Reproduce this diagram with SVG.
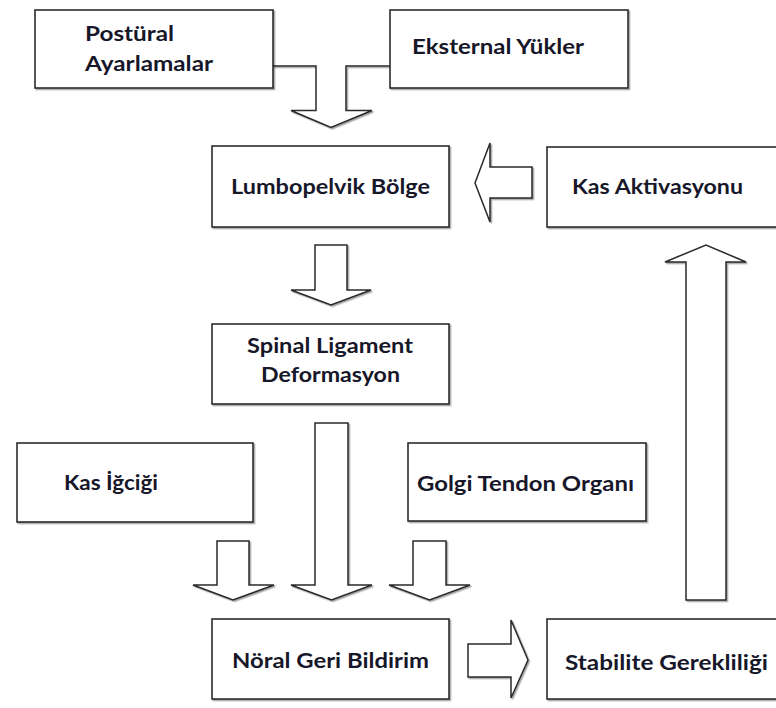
<svg xmlns="http://www.w3.org/2000/svg" width="776" height="708" viewBox="0 0 776 708">
  <defs>
    <filter id="shadow" x="-10%" y="-10%" width="130%" height="130%">
      <feDropShadow dx="1.4" dy="1.4" stdDeviation="0.5" flood-color="#000" flood-opacity="0.35"/>
    </filter>
  </defs>
  <style>
    .box{fill:#fff;stroke:#2a2a2a;stroke-width:1.6;filter:url(#shadow)}
    .arr{fill:#fff;stroke:#2a2a2a;stroke-width:1.5;stroke-linejoin:miter;filter:url(#shadow)}
    .line{fill:none;stroke:#2a2a2a;stroke-width:1.5;filter:url(#shadow)}
    .t{font-family:Lato,"Open Sans","Liberation Sans",sans-serif;font-weight:700;font-size:21px;fill:#17172a}
  </style>
  <rect width="776" height="708" fill="#fff"/>

  <!-- connectors -->
  <g id="connectors">
    <!-- joint of the two top boxes -->
    <line class="line" x1="273" y1="29.5" x2="390" y2="29.5"/>
    <path class="arr" d="M273,66 H316 V110.5 H291 L331,127.5 L372,110.5 H346 V66 H390"/>
    <!-- Lumbopelvik -> Spinal -->
    <polygon class="arr" points="315,245 347,245 347,290 371,290 331,305 291,290 315,290"/>
    <!-- Spinal -> Nöral (long) -->
    <polygon class="arr" points="315,423 348,423 348,585 372,585 331.5,600 291,585 315,585"/>
    <!-- Kas İğciği -> Nöral -->
    <polygon class="arr" points="217,541 249,541 249,585 274,585 233,600 193,585 217,585"/>
    <!-- Golgi -> Nöral -->
    <polygon class="arr" points="413,541 446,541 446,585 470,585 429.5,600 389,585 413,585"/>
    <!-- Nöral -> Stabilite -->
    <polygon class="arr" points="468,644 511,644 511,620 528,660 511,698 511,677 468,677"/>
    <!-- Stabilite -> Kas Aktivasyonu -->
    <polygon class="arr" points="686,600 686,262 665,262 706,245 746,262 726,262 726,600"/>
    <!-- Kas Aktivasyonu -> Lumbopelvik -->
    <polygon class="arr" points="532,167 532,198 490,198 490,222 475,183 490,143 490,167"/>
  </g>

  <g id="postural">
    <rect class="box" x="35" y="10" width="238" height="78"/>
    <text class="t" x="85" y="41" textLength="89" lengthAdjust="spacingAndGlyphs">Postüral</text>
    <text class="t" x="85" y="71" textLength="128" lengthAdjust="spacingAndGlyphs">Ayarlamalar</text>
  </g>

  <g id="eksternal">
    <rect class="box" x="390" y="10" width="238" height="78"/>
    <text class="t" x="412" y="54" textLength="172" lengthAdjust="spacingAndGlyphs">Eksternal Yükler</text>
  </g>

  <g id="lumbopelvik">
    <rect class="box" x="212" y="146" width="237" height="81"/>
    <text class="t" x="231" y="194" textLength="199" lengthAdjust="spacingAndGlyphs">Lumbopelvik Bölge</text>
  </g>

  <g id="kas-aktivasyonu">
    <rect class="box" x="547" y="147" width="240" height="80"/>
    <text class="t" x="572" y="194" textLength="171" lengthAdjust="spacingAndGlyphs">Kas Aktivasyonu</text>
  </g>

  <g id="spinal">
    <rect class="box" x="212" y="324" width="237" height="80"/>
    <text class="t" x="247" y="353" textLength="166" lengthAdjust="spacingAndGlyphs">Spinal Ligament</text>
    <text class="t" x="261" y="382" textLength="139" lengthAdjust="spacingAndGlyphs">Deformasyon</text>
  </g>

  <g id="kas-igcigi">
    <rect class="box" x="17" y="443" width="236" height="79"/>
    <text class="t" x="64" y="490" textLength="94" lengthAdjust="spacingAndGlyphs">Kas İğciği</text>
  </g>

  <g id="golgi">
    <rect class="box" x="408" y="443" width="238" height="78"/>
    <text class="t" x="417" y="491" textLength="217" lengthAdjust="spacingAndGlyphs">Golgi Tendon Organı</text>
  </g>

  <g id="noral">
    <rect class="box" x="212" y="619" width="237" height="80"/>
    <text class="t" x="232" y="668" textLength="197" lengthAdjust="spacingAndGlyphs">Nöral Geri Bildirim</text>
  </g>

  <g id="stabilite">
    <rect class="box" x="547" y="619" width="240" height="80"/>
    <text class="t" x="565" y="670" textLength="203" lengthAdjust="spacingAndGlyphs">Stabilite Gerekliliği</text>
  </g>
</svg>
